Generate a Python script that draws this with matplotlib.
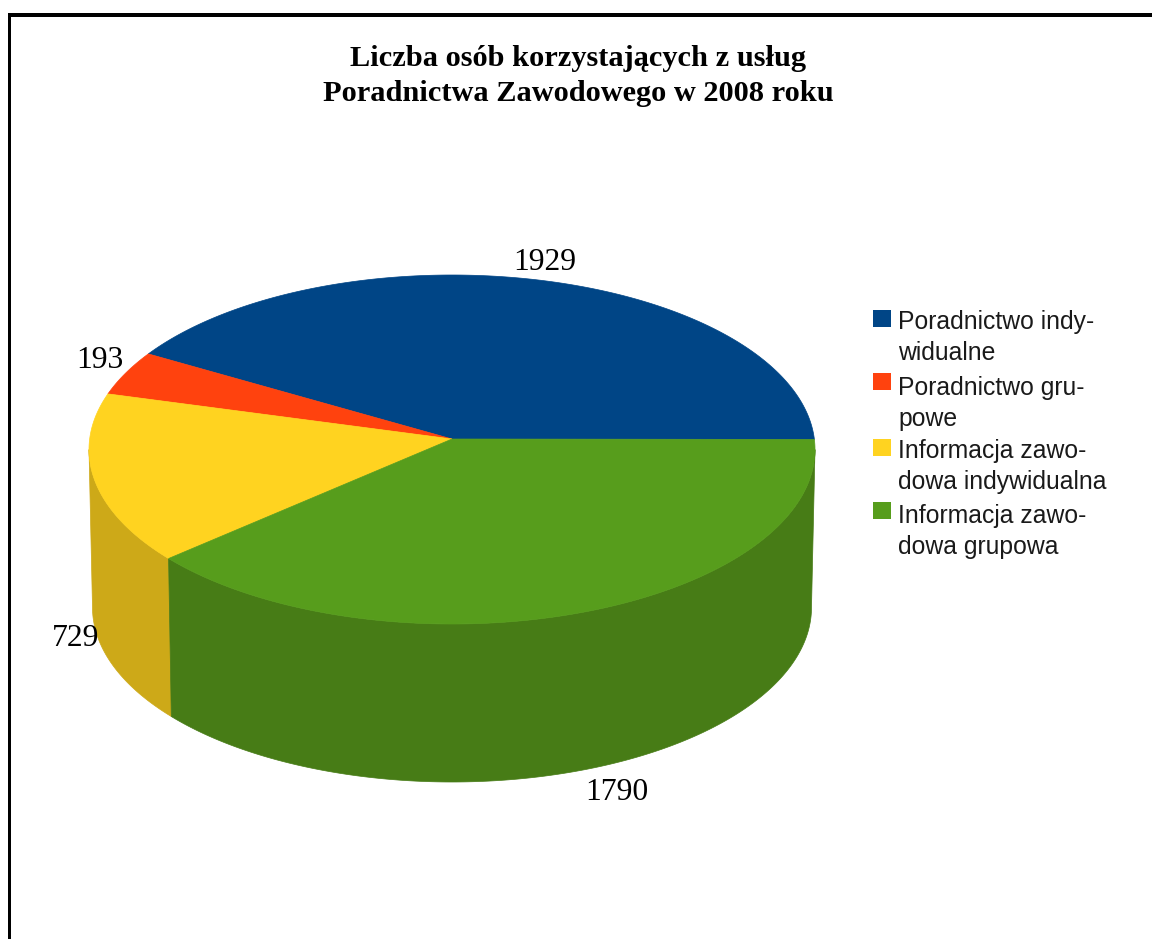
"""Flat 3D-look pie of Poradnictwo Zawodowe users in 2008, drawn in pixel coordinates."""
import numpy as np
import matplotlib
matplotlib.use('Agg')
import matplotlib.pyplot as plt
from matplotlib.patches import Rectangle

categories = ['Poradnictwo indy-\nwidualne', 'Poradnictwo gru-\npowe',
              'Informacja zawo-\ndowa indywidualna', 'Informacja zawo-\ndowa grupowa']
values = [1929, 193, 729, 1790]
top_colors = ['#004586', '#ff420e', '#ffd320', '#579d1c']
side_colors = ['#003a70', '#c9340b', '#cda918', '#477c16']
title_lines = 'Liczba osób korzystających z usług\nPoradnictwa Zawodowego w 2008 roku'

W, H = 1152, 939
AX, AY = 452.0, 439.0                             # where the slices meet
CX, CY, RX, RY = 452.0, 449.5, 363.0, 174.5       # top ellipse
BX, BY, BRX, BRY = 452.0, 607.5, 359.5, 174.5     # bottom ellipse (slight perspective)
SKEW = 3.3                                        # deg, apex sits above the ellipse centre

# label anchors, placed by hand around the pie
label_pos = [(545, 263), (100, 360), (76, 639), (617, 793)]
legend_y = [320, 383, 449, 512]
legend_text_y = [310, 376, 439, 504]


def rim(cx, cy, rx, ry, a0, a1, n=240):
    t = np.radians(np.linspace(a0, a1, n))
    return cx + rx * np.cos(t), cy - ry * np.sin(t)


def warp(a):
    # value angle -> ellipse parameter angle
    return a + SKEW * np.cos(np.radians(a))


fig = plt.figure(figsize=(W / 100, H / 100), dpi=100, facecolor='white')
ax = fig.add_axes([0, 0, 1, 1])
ax.set_xlim(0, W)
ax.set_ylim(H, 0)
ax.axis('off')

bounds = np.concatenate([[0], np.cumsum(values) / np.sum(values) * 360.0])
edges = warp(bounds)

# side walls: only the part of the rim facing the viewer (180-360 deg)
for i, col in enumerate(side_colors):
    a0, a1 = max(edges[i], 180.0), min(edges[i + 1], 360.0)
    if a1 <= a0:
        continue
    xt, yt = rim(CX, CY, RX, RY, a0, a1)
    xb, yb = rim(BX, BY, BRX, BRY, a0, a1)
    ax.fill(np.r_[xt, xb[::-1]], np.r_[yt, yb[::-1]], color=col, lw=0.5, zorder=2)

# top slices
for i, col in enumerate(top_colors):
    xt, yt = rim(CX, CY, RX, RY, edges[i], edges[i + 1])
    ax.fill(np.r_[AX, xt], np.r_[AY, yt], color=col, lw=0.5, zorder=3)

# value labels
for (x, y), v in zip(label_pos, values):
    ax.text(x, y, str(v), family='Liberation Serif', fontsize=22.8,
            ha='center', va='center', color='black', zorder=5)

# title
ax.text(578, 76, title_lines, family='Liberation Serif', fontweight='bold', fontsize=21.9,
        ha='center', va='center', linespacing=1.37, color='black')

# legend
for cat, col, y, ty in zip(categories, top_colors, legend_y, legend_text_y):
    ax.add_patch(Rectangle((873, y - 10), 18, 17, facecolor=col, edgecolor='none'))
    ax.text(898, ty, cat, family='Liberation Sans', fontsize=17.8, ha='left', va='top',
            linespacing=1.37, color='#1a1a1a')

# image frame: left and top only
ax.add_patch(Rectangle((7.5, 13), W, 4, facecolor='black', edgecolor='none', zorder=6))
ax.add_patch(Rectangle((7.5, 13), 3.5, H, facecolor='black', edgecolor='none', zorder=6))

fig.savefig('out.png', dpi=100)
